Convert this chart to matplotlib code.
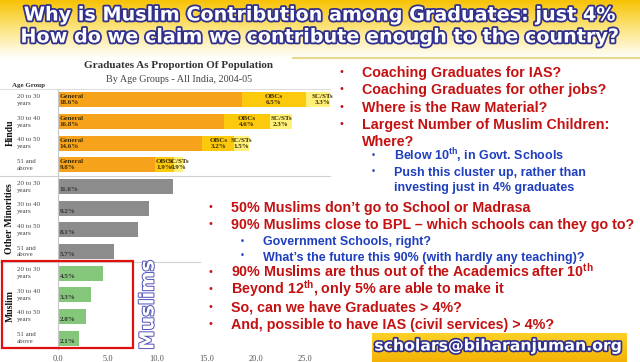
import numpy as np
import matplotlib
matplotlib.use("Agg")
import matplotlib.pyplot as plt
import matplotlib.patheffects as pe
from matplotlib import transforms
from matplotlib.lines import Line2D
from matplotlib.patches import Rectangle

plt.rcParams['mathtext.fontset'] = 'custom'
plt.rcParams['mathtext.rm'] = 'Liberation Sans'
plt.rcParams['mathtext.bf'] = 'Liberation Sans:bold'

# data
age_groups = ["20 to 30\nyears", "30 to 40\nyears", "40 to 50\nyears", "51 and\nabove"]
hindu_general = [18.6, 16.8, 14.6, 9.8]
hindu_obc = [6.5, 4.6, 3.2, 1.9]
hindu_scst = [3.3, 2.3, 1.5, 0.9]
other_minorities = [11.6, 9.2, 8.1, 5.7]
muslim = [4.5, 3.3, 2.8, 2.1]
communities = ["Hindu", "Other Minorities", "Muslim"]
x_ticks = [0, 5, 10, 15, 20, 25]

title_lines = ["Why is Muslim Contribution among Graduates: just 4%",
               "How do we claim we contribute enough to the country?"]
upper_points = [
    ("red", "Coaching Graduates for IAS?"),
    ("red", "Coaching Graduates for other jobs?"),
    ("red", "Where is the Raw Material?"),
    ("red", "Largest Number of Muslim Children:"),
    ("cont", "Where?"),
    ("blue", r"Below 10$^{\mathbf{th}}$, in Govt. Schools"),
    ("blue", "Push this cluster up, rather than"),
    ("bcont", "investing just in 4% graduates"),
]
lower_points = [
    ("red", "50% Muslims don\u2019t go to School or Madrasa"),
    ("red", "90% Muslims close to BPL \u2013 which schools can they go to?"),
    ("blue", "Government Schools, right?"),
    ("blue", "What\u2019s the future this 90% (with hardly any teaching)?"),
    ("red", r"90% Muslims are thus out of the Academics after 10$^{\mathbf{th}}$"),
    ("red", r"Beyond 12$^{\mathbf{th}}$, only 5% are able to make it"),
    ("red", "So, can we have Graduates > 4%?"),
    ("red", "And, possible to have IAS (civil services) > 4%?"),
]

W, H = 640, 362
RED = '#C41212'
BLUE = '#1F3FBF'
NAVY = '#31318C'


def fx(px):
    return px / W


def fy(py):
    return 1 - py / H


fig = plt.figure(figsize=(6.4, 3.62), dpi=100)

# slide background: gold fading to white at the top
bg = fig.add_axes([0, 0, 1, 1], zorder=0)
yy = np.linspace(0, H, 400)
top = np.array([0.97, 0.76, 0.02])
mid = np.array([0.99, 0.90, 0.50])
white = np.array([1.0, 1.0, 1.0])
cols = []
for y in yy:
    if y < 28:
        t = y / 28
        c = top * (1 - t) + mid * t
    elif y < 58:
        t = (y - 28) / 30
        c = mid * (1 - t) + white * t
    else:
        c = white
    cols.append(c)
grad = np.array(cols)[:, None, :]
bg.imshow(grad, extent=[0, W, H, 0], aspect='auto')
bg.set_xlim(0, W)
bg.set_ylim(H, 0)
bg.axis('off')

for i, line in enumerate(title_lines):
    fig.text(0.5, fy(15 + 22 * i), line, ha='center', va='center',
             fontsize=13.8, fontweight='bold', color='white',
             family='DejaVu Sans', zorder=5,
             path_effects=[pe.withStroke(linewidth=2.6, foreground=NAVY)])

fig.add_artist(Line2D([fx(293), 1], [fy(58), fy(58)], color='#E6D98C',
                      lw=1.5, transform=fig.transFigure, zorder=3))

# chart
ax = fig.add_axes([fx(58), fy(349), 272 / W, 260 / H], zorder=2)
ax.set_facecolor('none')
rows = np.arange(12)
h_rows = rows[0:4]
o_rows = rows[4:8]
m_rows = rows[8:12]

ax.barh(h_rows, hindu_general, height=0.7, color='#F7A21B')
ax.barh(h_rows, hindu_obc, left=hindu_general, height=0.7, color='#FDC90C')
left_sc = [g + o for g, o in zip(hindu_general, hindu_obc)]
ax.barh(h_rows, hindu_scst, left=left_sc, height=0.7, color='#FFF07A')
ax.barh(o_rows, other_minorities, height=0.7, color='#8C8C8C')
ax.barh(m_rows, muslim, height=0.7, color='#84C77A')

ax.set_xlim(0, 27.5)
ax.set_ylim(11.5, -0.5)
ax.set_yticks([])
ax.set_xticks(x_ticks)
ax.set_xticklabels([f"{v:.1f}" for v in x_ticks], family='Liberation Serif',
                   fontsize=6, color='#555555')
ax.tick_params(axis='x', length=0, pad=4)
for s in ['right', 'bottom']:
    ax.spines[s].set_visible(False)
ax.spines['left'].set_color('#C8C8C8')
ax.spines['left'].set_linewidth(0.8)
ax.spines['top'].set_color('#DDDDDD')
ax.spines['top'].set_linewidth(0.8)

lab_kw = dict(family='Liberation Serif', fontsize=5, fontweight='bold',
              va='center', linespacing=1.3)
for r, g, o, s in zip(h_rows, hindu_general, hindu_obc, hindu_scst):
    ax.text(0.15, r, f"General\n{g}%", ha='left', color='#3B2B00', **lab_kw)
    ax.text(g + o / 2, r, f"OBCs\n{o}%", ha='center', color='#3B2B00', **lab_kw)
    ax.text(g + o + s / 2, r, f"SC/STs\n{s}%", ha='center', color='#3B2B00', **lab_kw)
for r, v in zip(o_rows, other_minorities):
    ax.text(0.15, r, f"\n{v}%", ha='left', color='#333333', **lab_kw)
for r, v in zip(m_rows, muslim):
    ax.text(0.15, r, f"\n{v}%", ha='left', color='#333333', **lab_kw)

blend = transforms.blended_transform_factory(fig.transFigure, ax.transData)
for r in rows:
    ax.text(fx(17), r, age_groups[r % 4], transform=blend, ha='left',
            va='center', family='Liberation Serif', fontsize=5,
            color='#444444', linespacing=1.5)
for k, name in enumerate(communities):
    ax.text(fx(10), 4 * k + 1.5, name, transform=blend, rotation=90,
            ha='center', va='center', family='Liberation Serif',
            fontsize=7, fontweight='bold', color='#111111')

for yv, x_end in [(3.5, 330), (7.5, 200)]:
    fig.add_artist(Line2D([0, fx(x_end)], [yv, yv], transform=blend,
                          color='#D0D0D0', lw=0.8, zorder=3))
fig.add_artist(Line2D([0, fx(58)], [-0.5, -0.5], transform=blend,
                      color='#DDDDDD', lw=0.8, zorder=3))

fig.text(fx(29), fy(85), "Age Group", ha='center', va='center',
         family='Liberation Serif', fontsize=5, fontweight='bold', color='#333333')
fig.text(fx(178), fy(65), "Graduates As Proportion Of Population", ha='center',
         va='center', family='Liberation Serif', fontsize=8, fontweight='bold',
         color='#333333')
fig.text(fx(179), fy(79), "By Age Groups - All India, 2004-05", ha='center',
         va='center', family='Liberation Serif', fontsize=7.3, color='#444444')

fig.add_artist(Rectangle((fx(2), fy(348)), fx(131), 87 / H, fill=False,
                         edgecolor='#E01010', lw=1.6, transform=fig.transFigure,
                         zorder=4))
fig.text(fx(148), fy(305), "Muslims", rotation=90, ha='center', va='center',
         fontsize=14, fontweight='bold', color='white', family='DejaVu Sans',
         zorder=5, path_effects=[pe.withStroke(linewidth=1.4, foreground='#5050B8')])


# bullet text, placed on baselines so superscripts don't shift lines
def bullets(points, x_red, x_blue, ys):
    for (kind, txt), y in zip(points, ys):
        if kind in ('red', 'cont'):
            col, xb, fs, off = RED, x_red, 10.3, 5
        else:
            col, xb, fs, off = BLUE, x_blue, 9, 4.5
        if kind in ('red', 'blue'):
            fig.text(fx(xb), fy(y), "\u2022", ha='center', va='center',
                     fontsize=fs * 0.7, color=col, zorder=5)
        fig.text(fx(xb + 21), fy(y + off), txt, ha='left', va='baseline',
                 family='Liberation Sans', fontsize=fs, fontweight='bold',
                 color=col, zorder=5)


bullets(upper_points, 341, 373, [72, 89, 107, 124, 141, 156, 172, 187])
bullets(lower_points, 210, 242, [207, 224, 241, 256, 272, 289, 307, 324])

# email badge
box = fig.add_axes([fx(372), 0, 255 / W, 29 / H], zorder=4)
bgrad = np.array([[0.99, 0.82, 0.15], [0.96, 0.70, 0.02]])
box.imshow(np.linspace(bgrad[0], bgrad[1], 50)[:, None, :], extent=[0, 1, 0, 1],
           aspect='auto')
box.axis('off')
fig.text(fx(499), fy(346), "scholars@biharanjuman.org", ha='center', va='center',
         fontsize=11.3, fontweight='bold', color='white', family='DejaVu Sans',
         zorder=6, path_effects=[pe.withStroke(linewidth=2.4, foreground=NAVY)])

fig.savefig("out.png", dpi=100)
